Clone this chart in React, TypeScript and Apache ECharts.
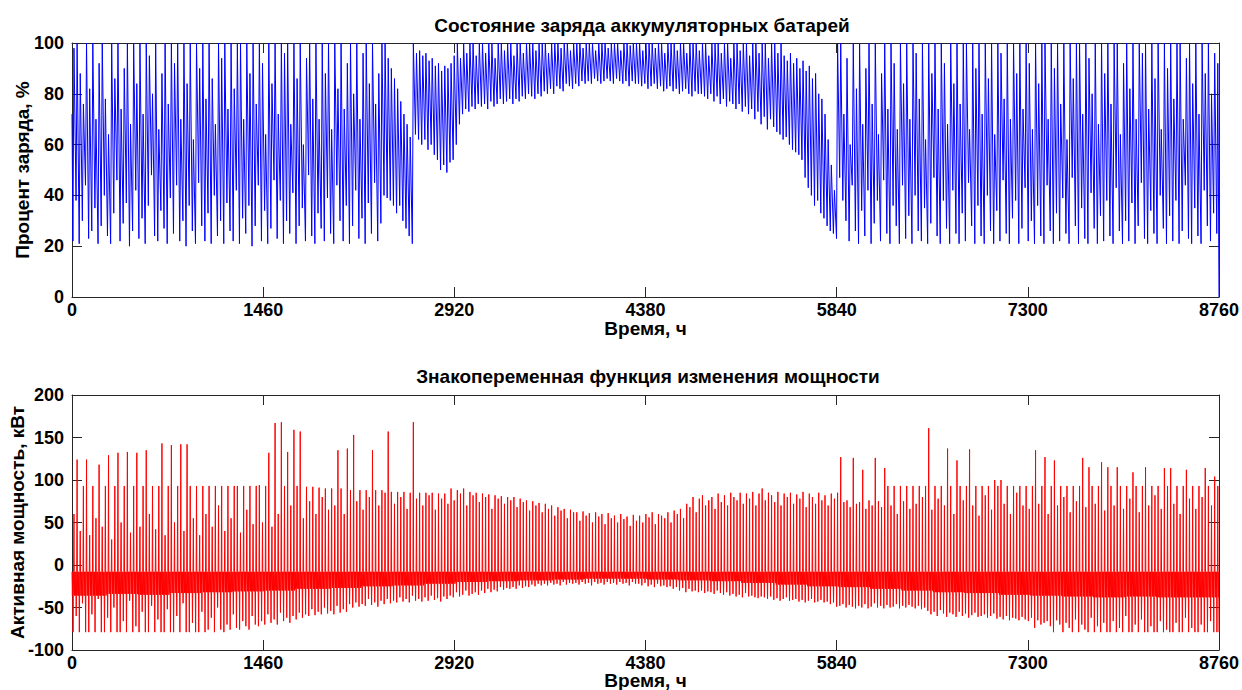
import React, { useEffect, useRef } from "react";
import * as echarts from "echarts";

// ---------- axes ----------
const X_MIN = 0;
const X_MAX = 8760;
const X_STEP = 1460;
const SOC_MIN_AXIS = 0;
const SOC_MAX_AXIS = 100;
const SOC_STEP = 20;
const PWR_MIN_AXIS = -100;
const PWR_MAX_AXIS = 200;
const PWR_STEP = 50;

// ---------- texts ----------
const TITLE_TOP = "Состояние заряда аккумуляторных батарей";
const TITLE_BOTTOM = "Знакопеременная функция изменения мощности";
const X_NAME = "Время, ч";
const Y_NAME_TOP = "Процент заряда, %";
const Y_NAME_BOTTOM = "Активная мощность, кВт";

// ---------- state of charge: daily trough / daily peak (%), day 0..364 ----------
const SOC_START = 72;
const SOC_END = 0;
const socMin: number[] = [
  22, 38, 21, 30, 44, 23, 26, 35, 21, 28,
  40, 24, 21, 33, 46, 22, 29, 37, 20, 26,
  42, 23, 31, 21, 36, 48, 24, 22, 34, 27,
  21, 39, 25, 44, 22, 30, 20, 36, 26, 21,
  45, 28, 22, 33, 21, 40, 24, 30, 21, 37,
  26, 22, 42, 21, 31, 25, 36, 20, 28, 44,
  22, 34, 21, 27, 46, 23, 38, 21, 30, 25,
  41, 21, 28, 35, 22, 48, 24, 21, 33, 27,
  22, 39, 25, 21, 44, 30, 22, 36, 21, 28,
  42, 23, 31, 21, 37, 25, 45, 22, 29, 40,
  39, 38, 36, 33, 36, 30, 27, 24, 21, 64,
  62, 60, 62, 58, 60, 56, 54, 50, 52, 49,
  53, 54, 60, 68, 72, 74, 73, 75, 74, 76,
  75, 76, 74, 77, 75, 76, 78, 76, 77, 78,
  76, 78, 77, 79, 78, 80, 79, 78, 80, 79,
  81, 80, 82, 80, 83, 82, 81, 84, 83, 82,
  84, 83, 85, 84, 85, 84, 86, 85, 84, 85,
  86, 85, 84, 86, 85, 84, 85, 83, 85, 84,
  84, 83, 84, 82, 83, 84, 82, 83, 81, 82,
  83, 81, 82, 80, 81, 82, 80, 79, 81, 80,
  80, 79, 78, 80, 77, 79, 76, 78, 75, 77,
  76, 74, 76, 73, 75, 72, 74, 70, 73, 68,
  71, 66, 70, 67, 65, 64, 62, 63, 60, 58,
  57, 56, 54, 47, 43, 40, 36, 38, 33, 31,
  28, 26, 25, 23, 47, 38, 30, 22, 44, 26,
  21, 34, 24, 42, 21, 29, 38, 22, 46, 25,
  21, 36, 28, 21, 44, 23, 32, 21, 40, 26,
  22, 35, 21, 29, 47, 24, 21, 38, 27, 21,
  42, 25, 21, 33, 22, 45, 28, 21, 36, 24,
  21, 40, 26, 21, 34, 22, 46, 25, 21, 31,
  38, 21, 27, 43, 22, 30, 21, 36, 24, 21,
  44, 26, 21, 33, 22, 39, 25, 21, 47, 28,
  21, 35, 23, 21, 41, 27, 21, 32, 22, 38,
  24, 21, 43, 26, 21, 30, 22, 37, 21, 28,
  45, 23, 21, 34, 25, 21, 40, 27, 21, 32,
  22, 38, 21, 26, 44, 23, 21, 35, 24, 21,
  42, 28, 22, 33, 25,
];
const socMax: number[] = [
  98, 100, 88, 76, 100, 82, 100, 70, 92, 100,
  78, 64, 100, 86, 100, 74, 90, 100, 68, 100,
  84, 100, 72, 100, 95, 80, 100, 66, 88, 100,
  76, 100, 92, 100, 70, 100, 84, 100, 62, 100,
  90, 100, 78, 100, 86, 68, 100, 94, 100, 74,
  100, 82, 100, 100, 70, 100, 88, 100, 76, 100,
  92, 64, 100, 84, 100, 72, 100, 96, 100, 68,
  100, 86, 100, 60, 94, 100, 78, 100, 70, 100,
  88, 100, 66, 100, 82, 100, 74, 92, 100, 80,
  100, 70, 96, 100, 84, 100, 76, 88, 100, 100,
  94, 90, 86, 82, 77, 72, 68, 63, 100, 96,
  97, 95, 96, 93, 94, 91, 92, 89, 91, 90,
  92, 95, 100, 94, 100, 96, 100, 100, 95, 100,
  100, 96, 100, 100, 94, 100, 100, 97, 100, 100,
  95, 100, 100, 96, 100, 100, 100, 97, 100, 100,
  100, 96, 100, 100, 100, 98, 100, 100, 97, 100,
  100, 100, 98, 100, 100, 100, 97, 100, 100, 100,
  98, 100, 100, 100, 97, 100, 100, 99, 100, 100,
  100, 97, 100, 100, 100, 98, 100, 100, 96, 100,
  100, 100, 97, 100, 100, 96, 100, 100, 100, 97,
  100, 100, 95, 100, 100, 100, 96, 100, 100, 94,
  100, 100, 97, 100, 100, 95, 100, 100, 96, 100,
  100, 94, 100, 100, 96, 100, 95, 93, 96, 92,
  94, 90, 93, 89, 91, 86, 88, 80, 78, 72,
  62, 52, 42, 100, 100, 72, 94, 60, 100, 82,
  100, 68, 90, 100, 76, 100, 64, 88, 100, 74,
  100, 92, 66, 100, 84, 100, 70, 100, 96, 78,
  100, 62, 100, 88, 100, 74, 100, 92, 68, 100,
  84, 100, 76, 100, 100, 66, 100, 90, 100, 72,
  100, 86, 100, 64, 100, 96, 78, 100, 70, 100,
  88, 100, 74, 100, 92, 66, 100, 84, 100, 100,
  70, 100, 90, 100, 76, 100, 62, 100, 86, 100,
  100, 72, 100, 94, 80, 100, 68, 100, 88, 100,
  76, 100, 100, 64, 92, 100, 82, 100, 70, 100,
  96, 100, 74, 100, 86, 100, 66, 100, 90, 100,
  78, 100, 100, 70, 94, 100, 84, 100, 72, 100,
  88, 100, 80, 96, 92,
];

// ---------- power: daily positive peak / daily negative trough (kW) ----------
const PWR_BASE = -8;
const PWR_END = -79;
// lower edge of the dense discharge band, by ten-day period
const pwrBandLow: number[] = [
  -36, -34, -35, -33, -32, -31, -30, -28, -27, -25, -24, -22,
  -20, -19, -18, -17, -16, -16, -17, -18, -19, -21, -23, -25,
  -26, -28, -30, -32, -33, -35, -36, -37, -38, -37, -38, -38,
];
const pwrMax: number[] = [
  60, 124, 40, 93, 124, 35, 93, 55, 118, 45,
  93, 129, 30, 93, 132, 50, 93, 133, 38, 93,
  132, 45, 93, 135, 60, 93, 42, 93, 143, 35,
  93, 141, 50, 93, 142, 40, 142, 93, 55, 93,
  35, 93, 60, 93, 45, 93, 70, 93, 40, 93,
  55, 93, 93, 38, 93, 65, 93, 48, 93, 94,
  50, 93, 132, 45, 167, 60, 168, 93, 133, 70,
  159, 93, 157, 55, 92, 75, 92, 60, 91, 80,
  90, 65, 90, 70, 135, 90, 60, 137, 88, 153,
  75, 88, 65, 88, 80, 135, 88, 70, 88, 85,
  157, 86, 72, 86, 80, 86, 66, 85, 168, 78,
  85, 70, 85, 82, 85, 65, 84, 78, 84, 72,
  90, 76, 88, 84, 90, 70, 86, 82, 85, 74,
  84, 80, 83, 66, 82, 78, 81, 72, 80, 76,
  80, 68, 78, 74, 76, 64, 75, 70, 73, 62,
  72, 66, 70, 58, 68, 64, 66, 55, 65, 62,
  62, 52, 63, 58, 61, 50, 62, 57, 60, 48,
  61, 55, 58, 50, 60, 54, 57, 46, 59, 52,
  58, 50, 60, 56, 62, 48, 60, 58, 55, 62,
  50, 64, 60, 66, 55, 72, 68, 80, 62, 78,
  82, 70, 76, 80, 66, 84, 74, 82, 70, 85,
  80, 76, 85, 72, 84, 78, 86, 70, 84, 90,
  76, 85, 82, 74, 86, 70, 84, 80, 85, 72,
  83, 78, 86, 68, 84, 80, 72, 85, 76, 82,
  70, 84, 78, 85, 127, 74, 76, 68, 126, 72,
  74, 112, 66, 76, 70, 126, 75, 68, 114, 93,
  70, 93, 60, 93, 75, 93, 66, 93, 72, 93,
  80, 93, 161, 65, 93, 78, 93, 70, 137, 93,
  60, 123, 93, 76, 93, 136, 70, 93, 58, 93,
  82, 93, 65, 100, 93, 100, 72, 93, 60, 93,
  85, 93, 70, 93, 66, 93, 135, 72, 93, 127,
  60, 93, 123, 70, 93, 80, 93, 62, 93, 75,
  93, 126, 68, 115, 93, 72, 93, 121, 64, 115,
  93, 70, 115, 93, 66, 93, 78, 109, 93, 62,
  93, 115, 70, 93, 82, 93, 66, 114, 93, 114,
  72, 93, 60, 93, 112, 78, 93, 66, 93, 80,
  114, 93, 70, 104, 93,
];
const pwrMin: number[] = [
  -79, -60, -79, -45, -79, -79, -58, -79, -40, -79,
  -79, -62, -79, -50, -79, -79, -66, -79, -42, -79,
  -72, -79, -55, -79, -79, -48, -79, -64, -79, -79,
  -52, -79, -79, -60, -79, -45, -79, -79, -68, -79,
  -79, -55, -79, -76, -62, -79, -50, -76, -79, -70,
  -76, -58, -74, -76, -66, -72, -76, -60, -70, -72,
  -66, -70, -58, -68, -64, -70, -56, -66, -62, -68,
  -60, -64, -56, -62, -58, -60, -52, -59, -55, -58,
  -50, -57, -54, -58, -48, -56, -52, -55, -46, -50,
  -44, -49, -46, -48, -40, -47, -44, -49, -42, -46,
  -40, -45, -42, -44, -38, -43, -40, -44, -36, -42,
  -40, -43, -38, -42, -36, -41, -39, -43, -37, -40,
  -36, -38, -32, -37, -35, -30, -36, -34, -32, -35,
  -30, -33, -28, -32, -29, -31, -26, -29, -27, -28,
  -26, -28, -24, -27, -25, -26, -23, -25, -22, -24,
  -22, -24, -21, -23, -22, -24, -20, -23, -21, -22,
  -21, -23, -20, -22, -21, -24, -20, -22, -21, -23,
  -20, -22, -21, -23, -20, -22, -21, -24, -20, -22,
  -22, -24, -21, -25, -23, -26, -22, -25, -24, -26,
  -25, -28, -26, -30, -27, -32, -28, -31, -30, -32,
  -30, -33, -31, -32, -34, -30, -33, -35, -32, -36,
  -34, -37, -35, -38, -33, -37, -36, -38, -39, -37,
  -38, -40, -37, -41, -39, -42, -40, -38, -42, -41,
  -40, -43, -41, -44, -42, -40, -44, -43, -41, -44,
  -43, -46, -44, -49, -48, -46, -50, -47, -49, -51,
  -48, -50, -46, -51, -49, -45, -50, -48, -51, -47,
  -50, -49, -46, -51, -48, -50, -47, -49, -51, -48,
  -52, -50, -54, -58, -55, -60, -53, -57, -61, -56,
  -58, -61, -55, -60, -57, -62, -59, -56, -61, -60,
  -58, -62, -60, -57, -63, -61, -64, -60, -65, -62,
  -63, -65, -61, -64, -66, -62, -74, -65, -70, -68,
  -66, -72, -79, -65, -70, -79, -68, -74, -79, -64,
  -79, -70, -76, -79, -62, -79, -72, -79, -68, -79,
  -79, -66, -79, -74, -79, -60, -79, -79, -70, -79,
  -64, -79, -79, -72, -79, -79, -66, -79, -76, -79,
  -79, -68, -79, -79, -62, -79, -74, -79, -79, -70,
  -79, -79, -66, -79, -79,
];

function buildSoc(): [number, number][] {
  const out: [number, number][] = [[0, SOC_START]];
  for (let d = 0; d < socMin.length; d++) {
    const t = d * 24;
    out.push([t + 7, socMin[d]]);
    out.push([t + 15, socMax[d]]);
  }
  out.push([X_MAX, SOC_END]);
  return out;
}

function buildPower(): [number, number][] {
  const out: [number, number][] = [];
  const per = pwrMax.length / pwrBandLow.length;
  for (let d = 0; d < pwrMax.length; d++) {
    const t = d * 24;
    const band = pwrBandLow[Math.min(pwrBandLow.length - 1, Math.floor(d / per))];
    out.push([t, PWR_BASE]);
    out.push([t + 3, band]);
    out.push([t + 5, PWR_BASE]);
    out.push([t + 8, pwrMin[d]]);
    out.push([t + 10, band]);
    out.push([t + 12, PWR_BASE]);
    out.push([t + 15, pwrMax[d]]);
    out.push([t + 17, PWR_BASE]);
    out.push([t + 20, band]);
    out.push([t + 22, PWR_BASE]);
  }
  out.push([X_MAX, PWR_END]);
  return out;
}

const FONT = '"Liberation Sans", Arial, sans-serif';
const AXIS_COLOR = "#262626";
const labelStyle = { fontFamily: FONT, fontWeight: "bold" as const, fontSize: 18, color: "#000" };
const nameStyle = { ...labelStyle, fontSize: 19, lineHeight: 17 };
const plain = (v: number) => String(v);

function mainX(gridIndex: number, nameGap: number) {
  return {
    type: "value" as const,
    gridIndex,
    min: X_MIN,
    max: X_MAX,
    interval: X_STEP,
    name: X_NAME,
    nameLocation: "middle" as const,
    nameGap,
    nameMoveOverlap: false,
    nameTextStyle: nameStyle,
    axisLine: { show: true, onZero: false, lineStyle: { color: AXIS_COLOR, width: 1 } },
    axisTick: { show: true, inside: true, length: 10, lineStyle: { color: AXIS_COLOR } },
    axisLabel: { ...labelStyle, margin: 5, lineHeight: 15, formatter: plain },
    splitLine: { show: false },
  };
}
function mirrorX(gridIndex: number) {
  return {
    type: "value" as const,
    gridIndex,
    position: "top" as const,
    min: X_MIN,
    max: X_MAX,
    interval: X_STEP,
    axisLine: { show: true, onZero: false, lineStyle: { color: AXIS_COLOR, width: 1 } },
    axisTick: { show: true, inside: true, length: 10, lineStyle: { color: AXIS_COLOR } },
    axisLabel: { show: false },
    splitLine: { show: false },
  };
}
function mainY(gridIndex: number, min: number, max: number, interval: number, name: string, nameGap: number) {
  return {
    type: "value" as const,
    gridIndex,
    min,
    max,
    interval,
    name,
    nameLocation: "middle" as const,
    nameGap,
    nameMoveOverlap: false,
    nameRotate: 90,
    nameTextStyle: { ...nameStyle, lineHeight: 19 },
    axisLine: { show: true, onZero: false, lineStyle: { color: AXIS_COLOR, width: 1 } },
    axisTick: { show: true, inside: true, length: 10, lineStyle: { color: AXIS_COLOR } },
    axisLabel: { ...labelStyle, margin: 8, formatter: plain },
    splitLine: { show: false },
  };
}
function mirrorY(gridIndex: number, min: number, max: number, interval: number) {
  return {
    type: "value" as const,
    gridIndex,
    position: "right" as const,
    min,
    max,
    interval,
    axisLine: { show: true, onZero: false, lineStyle: { color: AXIS_COLOR, width: 1 } },
    axisTick: { show: true, inside: true, length: 10, lineStyle: { color: AXIS_COLOR } },
    axisLabel: { show: false },
    splitLine: { show: false },
  };
}

export default function App() {
  const ref = useRef<HTMLDivElement>(null);
  useEffect(() => {
    if (!ref.current) return;
    const chart = echarts.init(ref.current, undefined, { renderer: "svg" });
    chart.setOption({
      animation: false,
      backgroundColor: "#ffffff",
      title: [
        { text: TITLE_TOP, left: 637, textAlign: "center", top: 11, textStyle: { ...labelStyle, fontSize: 19 } },
        { text: TITLE_BOTTOM, left: 643, textAlign: "center", top: 362, textStyle: { ...labelStyle, fontSize: 19 } },
      ],
      grid: [
        { left: 72, right: 23, top: 43, height: 254, containLabel: false, outerBoundsMode: "none" },
        { left: 72, right: 23, top: 395, height: 255, containLabel: false, outerBoundsMode: "none" },
      ],
      xAxis: [mainX(0, 23), mirrorX(0), mainX(1, 22), mirrorX(1)],
      yAxis: [
        mainY(0, SOC_MIN_AXIS, SOC_MAX_AXIS, SOC_STEP, Y_NAME_TOP, 40),
        mirrorY(0, SOC_MIN_AXIS, SOC_MAX_AXIS, SOC_STEP),
        mainY(1, PWR_MIN_AXIS, PWR_MAX_AXIS, PWR_STEP, Y_NAME_BOTTOM, 45),
        mirrorY(1, PWR_MIN_AXIS, PWR_MAX_AXIS, PWR_STEP),
      ],
      series: [
        {
          type: "line",
          xAxisIndex: 0,
          yAxisIndex: 0,
          data: buildSoc(),
          showSymbol: false,
          symbol: "none",
          lineStyle: { color: "#0000ff", width: 1 },
          silent: true,
        },
        {
          type: "line",
          xAxisIndex: 2,
          yAxisIndex: 2,
          data: buildPower(),
          showSymbol: false,
          symbol: "none",
          lineStyle: { color: "#ff0000", width: 1 },
          silent: true,
        },
      ],
    });
    return () => chart.dispose();
  }, []);
  return (
    <div
      ref={ref}
      style={{ position: "absolute", left: 0, top: 0, width: 1242, height: 690, background: "#fff" }}
    />
  );
}
